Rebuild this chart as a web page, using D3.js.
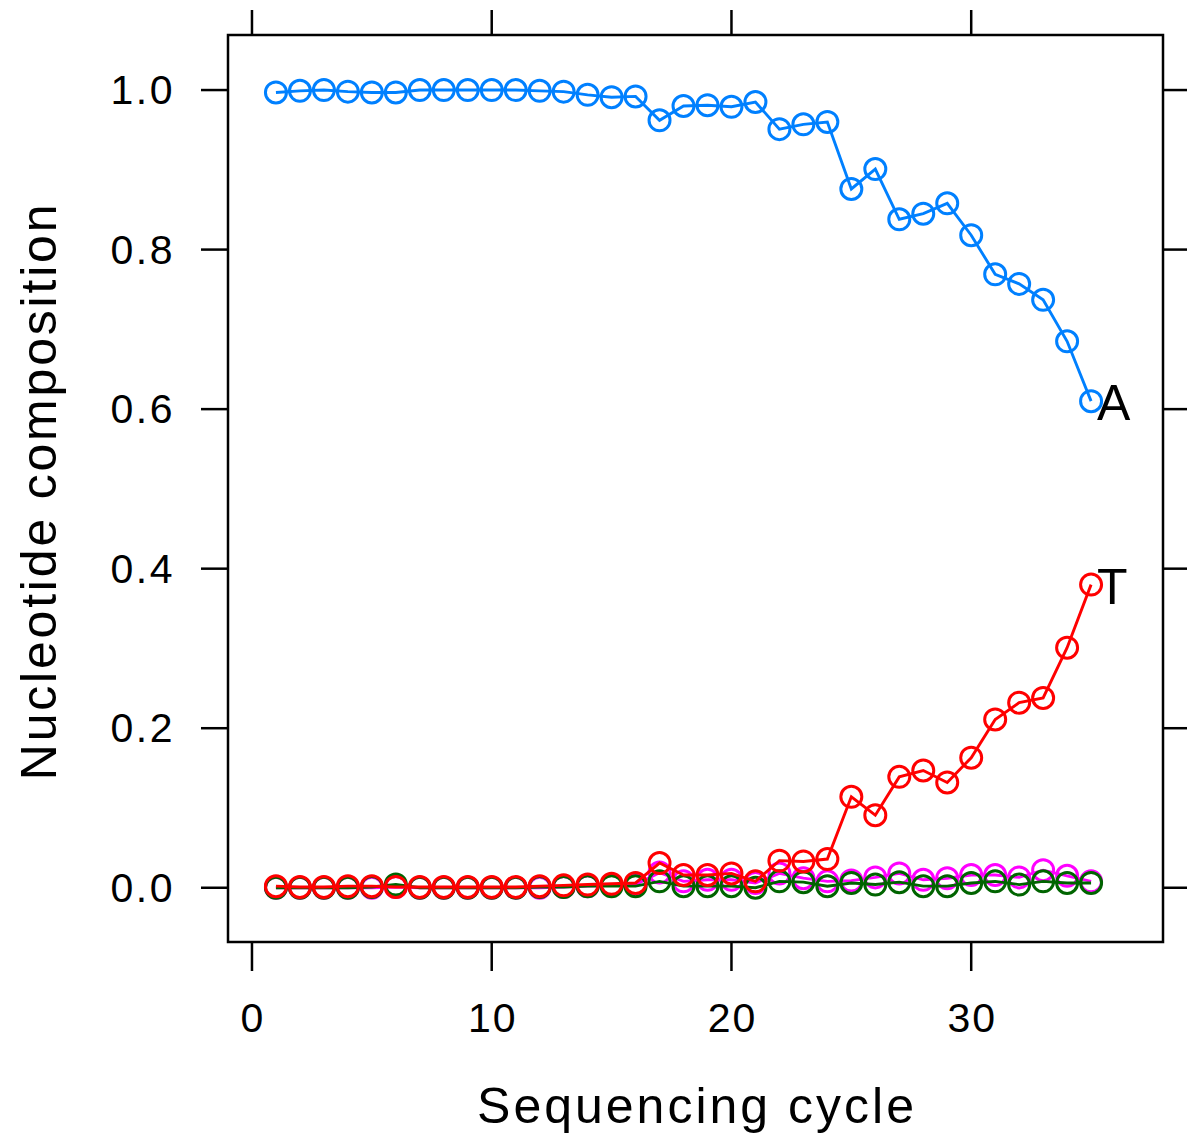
<html>
<head>
<meta charset="UTF-8"/>
<script src="https://d3js.org/d3.v7.min.js"></script>
<title>nucleotide composition</title>
<style>
body { margin: 0; background: #fff; }
text { font-family: "Liberation Sans", Arial, Helvetica, sans-serif; fill: #000; }
.frame { fill: none; stroke: #000; stroke-width: 2.5; }
.tick { stroke: #000; stroke-width: 2.5; }
.series path { fill: none; stroke-width: 2.9; }
.series circle { fill: none; stroke-width: 3; }
</style>
</head>
<body>
<svg id="chart" width="1187" height="1139"></svg>
<script>
'use strict';

// sequencing cycles
var cycles = [1,2,3,4,5,6,7,8,9,10,11,12,13,14,15,16,17,18,19,20,
	21,22,23,24,25,26,27,28,29,30,31,32,33,34,35];

// per-nucleotide fraction at each cycle
var baseA = [0.997,0.999,1.000,0.998,0.997,0.997,1.000,1.000,1.000,1.000,
	1.000,0.999,0.998,0.994,0.991,0.992,0.962,0.980,0.981,0.979,
	0.985,0.951,0.957,0.960,0.876,0.901,0.838,0.845,0.858,0.818,
	0.769,0.757,0.737,0.685,0.610];
var baseC = [0.000,0.000,0.000,0.000,0.000,0.001,0.000,0.000,0.000,0.000,
	0.000,0.000,0.001,0.002,0.003,0.004,0.019,0.008,0.010,0.010,
	0.006,0.018,0.012,0.008,0.009,0.013,0.018,0.010,0.012,0.016,
	0.016,0.013,0.022,0.015,0.008];
var baseG = [0.000,0.000,0.000,0.000,0.001,0.004,0.000,0.000,0.000,0.000,
	0.000,0.001,0.001,0.002,0.002,0.002,0.008,0.002,0.002,0.002,
	0.000,0.008,0.007,0.002,0.006,0.004,0.007,0.002,0.002,0.006,
	0.008,0.004,0.008,0.006,0.006];
var baseT = [0.002,0.001,0.001,0.002,0.002,0.001,0.001,0.001,0.001,0.001,
	0.001,0.002,0.003,0.004,0.005,0.006,0.031,0.016,0.016,0.018,
	0.008,0.034,0.033,0.036,0.114,0.091,0.139,0.147,0.132,0.163,
	0.211,0.232,0.238,0.301,0.380];

var xTicks = [0, 10, 20, 30];
var yTicks = [0, 0.2, 0.4, 0.6, 0.8, 1.0];

var series = [
	{name: 'A', values: baseA, color: '#0080ff', label: true},
	{name: 'C', values: baseC, color: '#ff00ff', label: false},
	{name: 'G', values: baseG, color: '#006400', label: false},
	{name: 'T', values: baseT, color: '#ff0000', label: true}
];

var svg = d3.select('#chart');

var x0 = 228, x1 = 1163, y0 = 35, y1 = 942;

var sx = d3.scaleLinear().domain([-1, 38]).range([x0, x1]);
var sy = d3.scaleLinear().domain([-0.068, 1.069]).range([y1, y0]);

var tickLen = 27;

// frame
svg.append('rect')
	.attr('class', 'frame')
	.attr('x', x0).attr('y', y0)
	.attr('width', x1 - x0).attr('height', y1 - y0);

// x ticks, bottom and top
svg.selectAll('.xtick-b').data(xTicks).enter()
	.append('line').attr('class', 'tick')
	.attr('x1', function(d){return sx(d)}).attr('x2', function(d){return sx(d)})
	.attr('y1', y1).attr('y2', y1 + tickLen + 2);
svg.selectAll('.xtick-t').data(xTicks).enter()
	.append('line').attr('class', 'tick')
	.attr('x1', function(d){return sx(d)}).attr('x2', function(d){return sx(d)})
	.attr('y1', y0).attr('y2', y0 - tickLen + 2);
svg.selectAll('.xlab').data(xTicks).enter()
	.append('text')
	.attr('x', function(d){return sx(d) + 1})
	.attr('y', 1032)
	.attr('text-anchor', 'middle')
	.attr('font-size', 41)
	.attr('letter-spacing', 2)
	.text(function(d){return d});

// y ticks, left and right
svg.selectAll('.ytick-l').data(yTicks).enter()
	.append('line').attr('class', 'tick')
	.attr('x1', x0 - tickLen).attr('x2', x0)
	.attr('y1', function(d){return sy(d)}).attr('y2', function(d){return sy(d)});
svg.selectAll('.ytick-r').data(yTicks).enter()
	.append('line').attr('class', 'tick')
	.attr('x1', x1).attr('x2', x1 + tickLen)
	.attr('y1', function(d){return sy(d)}).attr('y2', function(d){return sy(d)});
svg.selectAll('.ylab').data(yTicks).enter()
	.append('text')
	.attr('x', 175)
	.attr('y', function(d){return sy(d) + 14})
	.attr('text-anchor', 'end')
	.attr('font-size', 41)
	.attr('letter-spacing', 2.5)
	.text(function(d){return d3.format('.1f')(d)});

// axis titles
svg.append('text')
	.attr('x', 697).attr('y', 1123)
	.attr('text-anchor', 'middle')
	.attr('font-size', 50)
	.attr('letter-spacing', 3)
	.text('Sequencing cycle');
svg.append('text')
	.attr('transform', 'translate(56,491) rotate(-90)')
	.attr('text-anchor', 'middle')
	.attr('font-size', 50)
	.attr('letter-spacing', 2.8)
	.text('Nucleotide composition');

// series
var line = d3.line()
	.x(function(d, i){return sx(cycles[i])})
	.y(function(d){return sy(d)});

var groups = svg.selectAll('.series').data(series).enter()
	.append('g').attr('class', 'series');

groups.append('path')
	.attr('d', function(s){return line(s.values)})
	.attr('stroke', function(s){return s.color});

groups.each(function(s){
	d3.select(this).selectAll('circle')
	.data(s.values).enter()
	.append('circle')
	.attr('cx', function(d, i){return sx(cycles[i])})
	.attr('cy', function(d){return sy(d)})
	.attr('r', 10.5)
	.attr('stroke', s.color);
});

// end labels
svg.selectAll('.endlab').data(series.filter(function(s){return s.label})).enter()
	.append('text')
	.attr('x', function(s){return sx(cycles[cycles.length - 1]) + 6})
	.attr('y', function(s){return sy(s.values[s.values.length - 1]) + 19})
	.attr('font-size', 50)
	.text(function(s){return s.name});
</script>
</body>
</html>
